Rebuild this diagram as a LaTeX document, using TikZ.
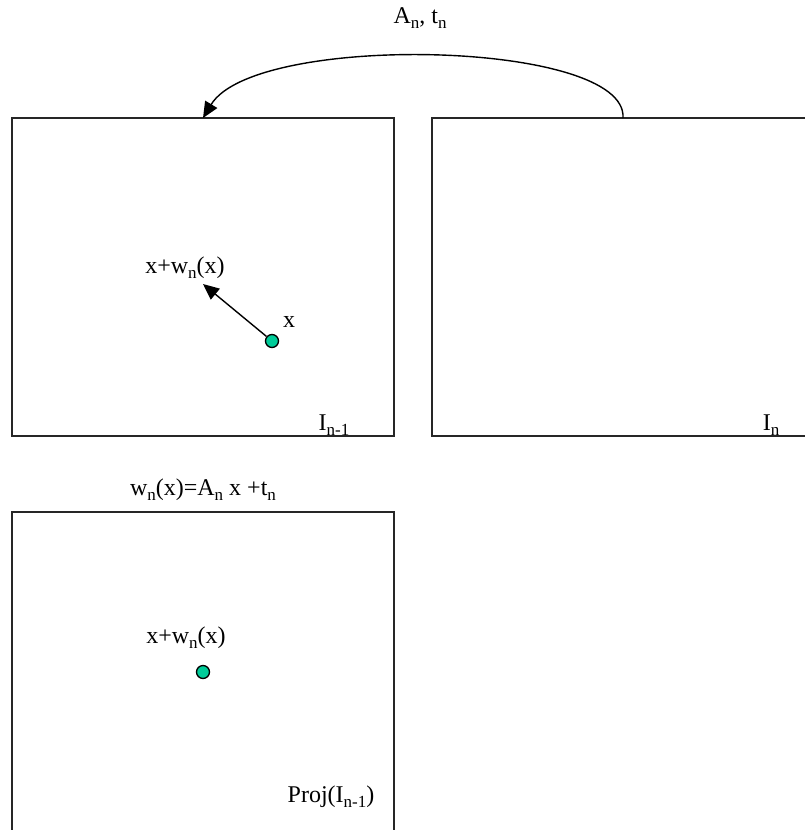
\documentclass[tikz,border=0pt]{standalone}
\usepackage{fontspec}
\setmainfont{Liberation Serif}
\usetikzlibrary{arrows.meta}
\definecolor{dotgreen}{RGB}{0,204,153}
\newcommand{\sbs}[1]{\raisebox{-0.45ex}{\fontsize{17}{17}\selectfont #1}}
\tikzset{
  frame/.style={draw=black!85, line width=1.6pt},
  lbl/.style={font=\fontsize{24}{28}\selectfont, inner sep=0pt},
  pt/.style={circle, draw=black, line width=1.3pt, fill=dotgreen, minimum size=13pt, inner sep=0pt},
  arr/.style={line width=1.4pt, -{Triangle[length=16pt,width=14pt]}}
}
\begin{document}
\begin{tikzpicture}[x=1pt,y=-1pt]
\useasboundingbox (0,0) rectangle (805,830);
\clip (0,0) rectangle (805,830);
% boxes
\draw[frame] (12,118) rectangle (394,436);
\draw[frame] (432,118) rectangle (840,436);
\draw[frame] (12,850) -- (12,512) -- (394,512) -- (394,850);
% curved arrow
\coordinate (cs) at (623,118);
\coordinate (ce) at (203,118);
\draw[arr] (cs) .. controls (628,40) and (255,32) .. (ce);
\node[lbl] (atl) at (420,18) {A\sbs{n}, t\sbs{n}};
% upper box content
\node[pt] (px) at (272,341) {};
\coordinate (pw) at (203,284);
\draw[arr] (px) -- (pw);
\node[lbl] (lx) at (289,322) {x};
\node[lbl] (lxw) at (185,268) {x+w\sbs{n}(x)};
\node[lbl] (lin1) at (334,425) {I\sbs{n-1}};
\node[lbl] (lin) at (771,425) {I\sbs{n}};
% lower
\node[lbl] (leq) at (203,490) {w\sbs{n}(x)=A\sbs{n} x +t\sbs{n}};
\node[lbl] (lxw2) at (186,638) {x+w\sbs{n}(x)};
\node[pt] (py) at (203,672) {};
\node[lbl] (lproj) at (331,797) {Proj(I\sbs{n-1})};
\end{tikzpicture}
\end{document}
